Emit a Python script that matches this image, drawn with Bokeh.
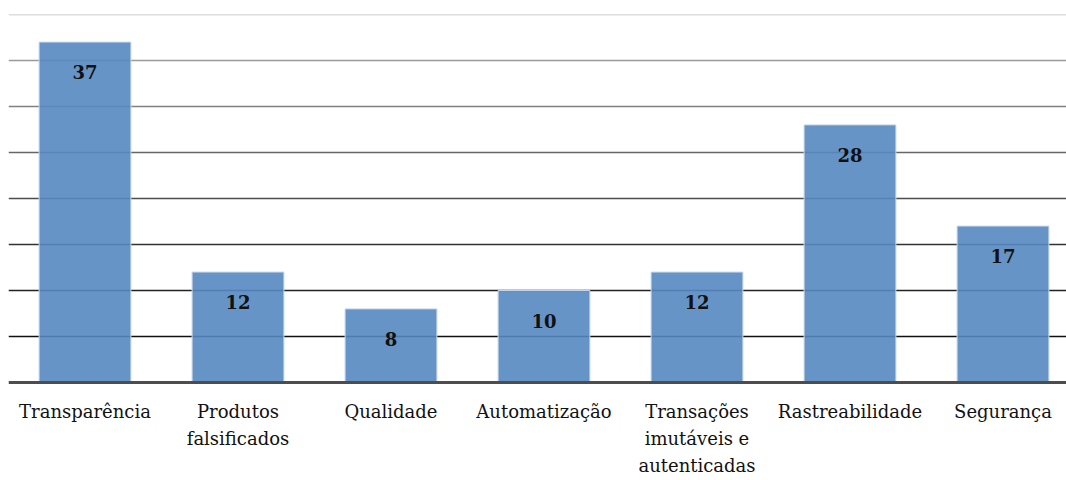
from bokeh.plotting import figure
from bokeh.models import ColumnDataSource, Range1d, Span
from bokeh.core.properties import value
from bokeh.embed import file_html
from bokeh.resources import INLINE

categories = ["Transparência", "Produtos\nfalsificados", "Qualidade", "Automatização",
              "Transações\nimutáveis e\nautenticadas", "Rastreabilidade", "Segurança"]
counts = [37, 12, 8, 10, 12, 28, 17]
grid_values = [5, 10, 15, 20, 25, 30, 35, 40]
grid_colors = ["#111111", "#222222", "#333333", "#4d4d4d", "#666666", "#808080", "#9a9a9a", "#bdbdbd"]

pos = list(range(len(categories)))
src = ColumnDataSource(dict(x=pos, cat=categories, n=counts, zero=[0] * len(counts),
                            lab=[str(v) for v in counts]))

y_top = 40
plot_px = 368      # pixels between 0 and 40
label_px = 98      # room for category labels under the baseline
y_bottom = -y_top * label_px / plot_px

p = figure(width=1066, height=480, x_range=Range1d(-0.5, 6.415),
           y_range=Range1d(y_bottom, y_top), output_backend="svg", toolbar_location=None,
           min_border_left=8, min_border_right=0, min_border_top=14, min_border_bottom=0)
p.outline_line_color = None
p.xgrid.visible = False
p.ygrid.visible = False
p.yaxis.visible = False
p.xaxis.visible = False

for v, c in zip(grid_values, grid_colors):
    p.add_layout(Span(location=v, dimension="width", line_color=c, line_width=1.3, level="underlay"))

p.vbar(x="x", top="n", width=0.60, source=src, fill_color="#5688c0", fill_alpha=0.9,
       line_color="#c6d6ea", line_width=1)

p.add_layout(Span(location=0, dimension="width", line_color="#4d4d4d", line_width=3))

p.text(x="x", y="n", text="lab", source=src, y_offset=30, text_align="center",
       text_baseline="middle", text_font=value("DejaVu Serif"), text_font_style="bold",
       text_font_size="18px", text_color="#111111")

p.text(x="x", y="zero", text="cat", source=src, y_offset=18, text_align="center",
       text_baseline="top", text_font=value("DejaVu Serif"), text_font_size="18px",
       text_color="#111111", text_line_height=1.3)

open("out.html", "w").write(file_html(p, INLINE))
